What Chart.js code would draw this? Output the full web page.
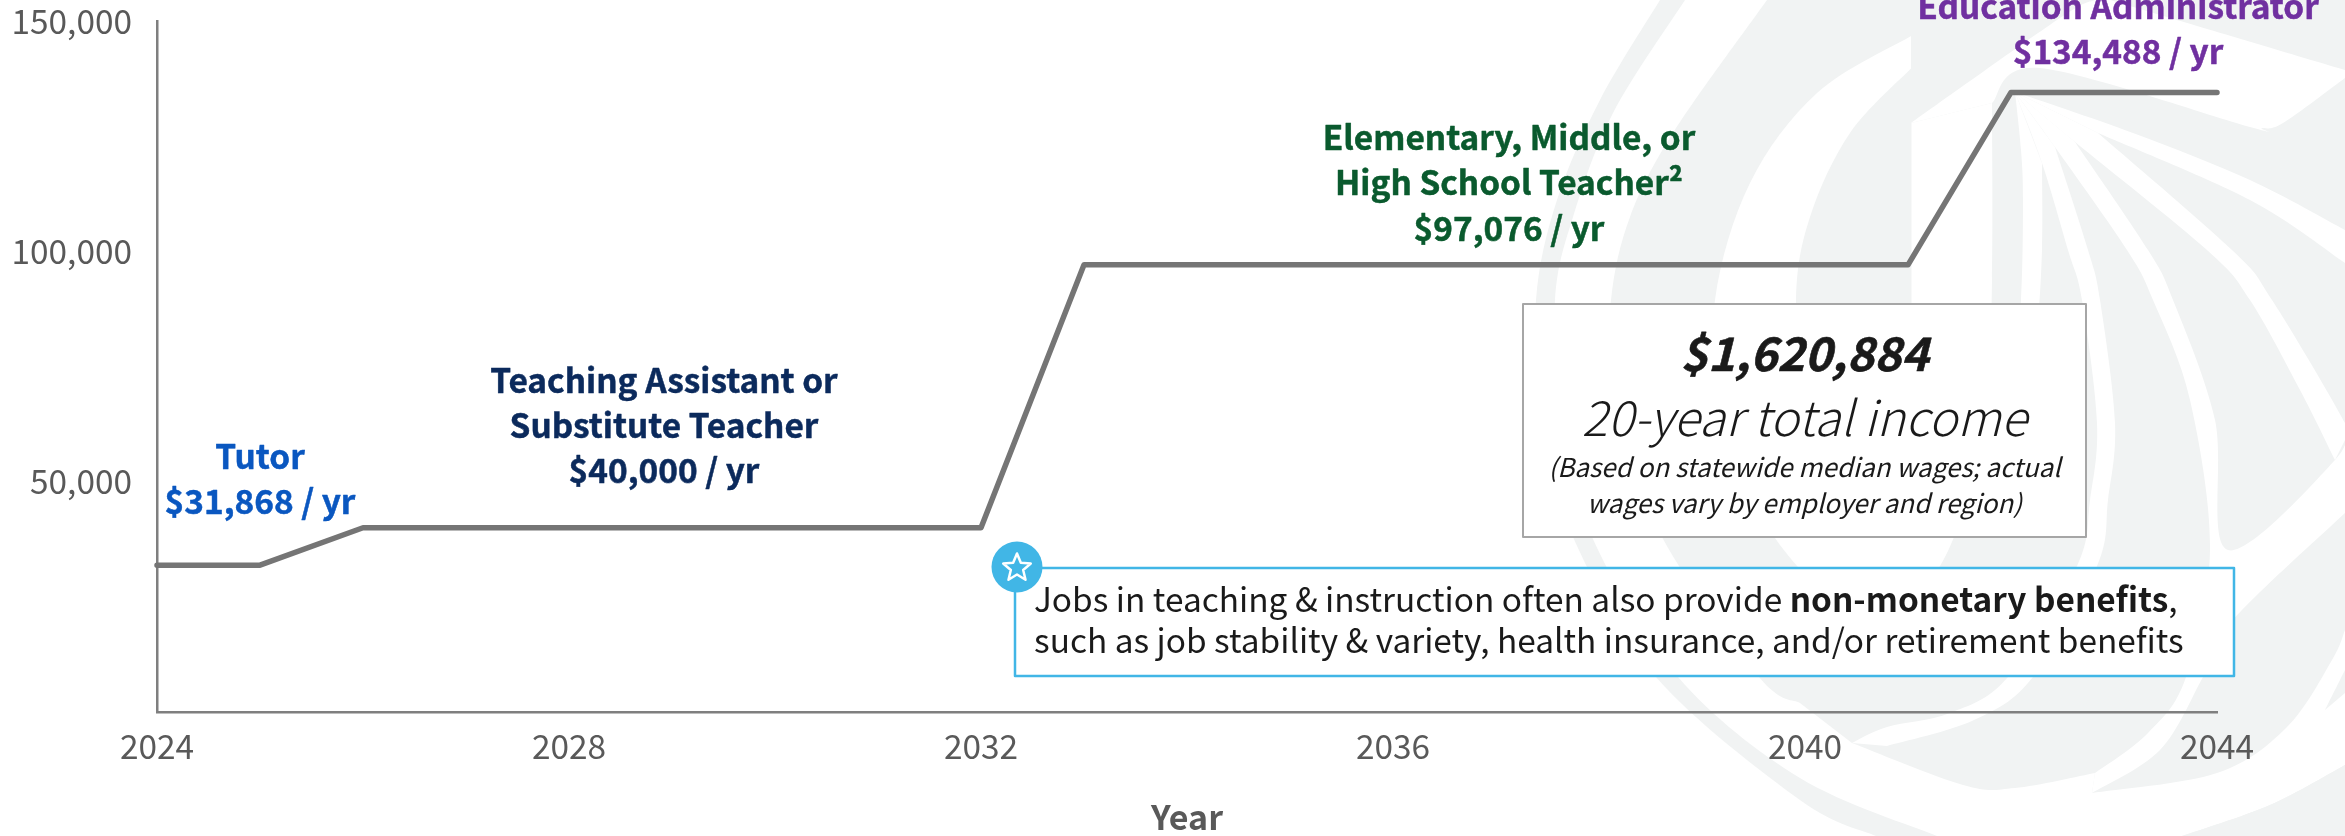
<!DOCTYPE html>
<html>
<head>
<meta charset="utf-8">
<style>html,body{margin:0;padding:0;background:#fff}canvas{display:block}</style>
<script src="https://cdn.jsdelivr.net/npm/chart.js@4"></script>
</head>
<body>
<canvas id="c" width="2345" height="836"></canvas>
<script>
const years = [2024,2025,2026,2027,2028,2029,2030,2031,2032,2033,2034,2035,2036,2037,2038,2039,2040,2041,2042,2043,2044];
const income = [31868,31868,40000,40000,40000,40000,40000,40000,40000,97076,97076,97076,97076,97076,97076,97076,97076,97076,134488,134488,134488];
const tutorLabel = ["Tutor","$31,868 / yr"];
const assistantLabel = ["Teaching Assistant or","Substitute Teacher","$40,000 / yr"];
const teacherLabel = ["Elementary, Middle, or","High School Teacher²","$97,076 / yr"];
const adminLabel = ["Education Administrator","$134,488 / yr"];
const totalLines = ["$1,620,884","20-year total income","(Based on statewide median wages; actual","wages vary by employer and region)"];
const noteLine1 = ["Jobs in teaching & instruction often also provide ","non-monetary benefits",","];
const noteLine2 = "such as job stability & variety, health insurance, and/or retirement benefits";
const axisTitle = "Year";

const FF = '"Noto Sans CJK JP","Noto Sans",sans-serif';
const WM = '#f1f3f3';

function tracePath(ctx, segs){
  ctx.beginPath();
  let first = true;
  for(const p of segs){
    if(first){ctx.moveTo(p[0][0],p[0][1]);first=false;} else ctx.lineTo(p[0][0],p[0][1]);
    for(let i=0;i<p.length-1;i++){
      const a=p[Math.max(i-1,0)],b=p[i],c=p[i+1],d=p[Math.min(i+2,p.length-1)];
      ctx.bezierCurveTo(b[0]+(c[0]-a[0])/6,b[1]+(c[1]-a[1])/6,c[0]-(d[0]-b[0])/6,c[1]-(d[1]-b[1])/6,c[0],c[1]);
    }
  }
  ctx.closePath();
}
function fillShape(ctx,color,segs){tracePath(ctx,segs);ctx.fillStyle=color;ctx.fill();}

const watermark = {
  id:'watermark',
  beforeDraw(chart){
    const ctx=chart.ctx;ctx.save();
    ctx.fillStyle='#fff';ctx.fillRect(0,0,2345,836);
    fillShape(ctx,WM,[[[1660,0],[1600,100],[1557,200],[1536,300],[1540,420],[1573,537],[1656,677],[1800,800],[1876,836]],[[2345,836]],[[2345,0]]]);
    fillShape(ctx,'#fff',[
      [[1685,0],[1613,113],[1573,217],[1555,300],[1560,420],[1592,537],[1678,677],[1800,778],[1937,836]],
      [[2182,836],[2270,805],[2345,765]],
      [[2345,630],[2332,660],[2287,727],[2217,773],[2092,793]],
      [[2095,773],[2015,788],[1963,785],[1852,743]],
      [[1800,703],[1759,677],[1662,537],[1610,400],[1611,300],[1630,217],[1673,133],[1767,0]]
    ]);
    fillShape(ctx,WM,[[[2182,836],[2270,805],[2345,765]],[[2345,793]],[[2252,836]]]);
    fillShape(ctx,WM,[[[2325,710],[2345,670]],[[2345,693]]]);
    fillShape(ctx,'#fff',[
      [[1911,36],[1817,93],[1750,183],[1715,300],[1718,420],[1775,538],[1850,610],[1905,600],[1948,551],[1985,430],[1992,280],[1992,103]],
      [[1911,123]]
    ]);
    fillShape(ctx,WM,[[[1911.5,68],[1850,133],[1810,217],[1796,300],[1805,420],[1860,500]],[[1911.5,420]]]);
    fillShape(ctx,'#fff',[[[1911,123],[2060,18],[2095,0]],[[2110,0],[2167,17],[2345,70]],[[2345,78],[2283,123],[2262,128],[2250,127],[2040,68],[1992,103]]]);
    fillShape(ctx,'#fff',[[[2015,92],[2021,150],[2023,200],[2021,300],[2012,400],[2000,450]],[[2020,450],[2036,340],[2042,250],[2042,163]]]);
    fillShape(ctx,'#fff',[[[2015,92],[2042,163],[2068,250],[2082,300],[2097,423],[2090,500],[2077,566],[2008,677],[1950,713],[1887,727],[1852,743]],[[1887,746],[1974,720],[2033,677],[2097,566],[2108,500],[2115,423],[2100,300],[2088,250],[2055,147]]]);
    fillShape(ctx,'#fff',[[[2015,92],[2055,147],[2127,250],[2153,300],[2190,400],[2210,550],[2186,677],[2148,733],[2095,773]],[[2092,793],[2160,750],[2203,677],[2233,620],[2345,513]],[[2345,423],[2335,460],[2228,550],[2215,420],[2173,300],[2148,250],[2075,142]]]);
    fillShape(ctx,'#fff',[[[2015,92],[2075,142],[2207,250],[2250,300],[2300,390],[2335,460]],[[2345,440],[2345,423],[2272,300],[2232,250],[2098,133]]]);
    fillShape(ctx,'#fff',[[[2015,92],[2133,133],[2250,180],[2345,230]],[[2345,263],[2250,200],[2098,133]]]);
    ctx.restore();
  }
};

function centered(ctx,lines,x,ys,font,color,heavy){
  ctx.font=font;ctx.fillStyle=color;ctx.textAlign='center';ctx.textBaseline='middle';
  ctx.strokeStyle=color;ctx.lineWidth=heavy||0;ctx.lineJoin='round';
  lines.forEach((t,i)=>{ctx.fillText(t,x,ys[i]);if(heavy)ctx.strokeText(t,x,ys[i]);});
}

const overlays = {
  id:'overlays',
  afterDraw(chart){
    const ctx=chart.ctx;ctx.save();
    const bold='700 33.4px '+FF;
    centered(ctx,tutorLabel,260,[456,501],bold,'#0a57c0',0.5);
    centered(ctx,assistantLabel,664,[380,425,470],bold,'#0b2a5c',0.5);
    centered(ctx,teacherLabel,1509,[137,182,228],bold,'#0a5a2e',0.5);
    centered(ctx,adminLabel,2118,[6,51],bold,'#7030a0',0.5);

    ctx.fillStyle='#fff';ctx.fillRect(1523,304,563,233);
    ctx.strokeStyle='#a6a6a6';ctx.lineWidth=2;ctx.strokeRect(1523,304,563,233);
    centered(ctx,[totalLines[0]],1804.5,[353],'italic 700 46.2px '+FF,'#1a1a1a',0.6);
    centered(ctx,[totalLines[1]],1804.5,[418],'italic 300 48.5px '+FF,'#1a1a1a');
    centered(ctx,totalLines.slice(2),1804.5,[467,503],'italic 400 26px '+FF,'#1a1a1a');

    ctx.fillStyle='#fff';ctx.fillRect(1015,568,1219,108);
    ctx.strokeStyle='#41b6e6';ctx.lineWidth=2.5;ctx.strokeRect(1015,568,1219,108);
    ctx.textAlign='left';ctx.textBaseline='middle';ctx.fillStyle='#1a1a1a';
    let x=1034;
    const reg='400 33.4px '+FF, bo='700 33.4px '+FF;
    [[noteLine1[0],reg],[noteLine1[1],bo],[noteLine1[2],reg]].forEach(([t,f])=>{ctx.font=f;ctx.fillText(t,x,599);x+=ctx.measureText(t).width;});
    ctx.font=reg;ctx.fillText(noteLine2,1034,640);

    ctx.beginPath();ctx.arc(1017,567,25.5,0,Math.PI*2);ctx.fillStyle='#41b6e6';ctx.fill();
    ctx.beginPath();
    for(let i=0;i<10;i++){
      const r=i%2?6.5:14.5,a=-Math.PI/2+i*Math.PI/5;
      const px=1017+r*Math.cos(a),py=568+r*Math.sin(a);
      i?ctx.lineTo(px,py):ctx.moveTo(px,py);
    }
    ctx.closePath();ctx.strokeStyle='#fff';ctx.lineWidth=2.5;ctx.lineJoin='round';ctx.stroke();

    centered(ctx,[axisTitle],1187,[817],'700 34px '+FF,'#595959');
    ctx.restore();
  }
};

new Chart(document.getElementById('c'),{
  type:'line',
  data:{datasets:[{
    data:years.map((y,i)=>({x:y,y:income[i]})),
    borderColor:'#757575',borderWidth:5.5,pointRadius:0,tension:0,
    borderCapStyle:'round',borderJoinStyle:'round',clip:false
  }]},
  options:{
    responsive:false,animation:false,
    layout:{padding:{left:0,right:128,top:21,bottom:0}},
    plugins:{legend:{display:false},tooltip:{enabled:false}},
    scales:{
      x:{type:'linear',min:2024,max:2044,
        afterFit(s){s.height=124;s.paddingLeft=0;s.paddingRight=0;},
        grid:{display:false,drawTicks:false},
        border:{display:true,color:'#7f7f7f',width:2.5},
        ticks:{stepSize:4,autoSkip:false,maxRotation:0,padding:14,color:'#595959',font:{family:FF,size:33.4},
          callback:v=>String(v)}
      },
      y:{min:0,max:150000,
        afterFit(s){s.width=157;s.paddingTop=0;s.paddingBottom=0;},
        grid:{display:false,drawTicks:false},
        border:{display:true,color:'#7f7f7f',width:2.5},
        ticks:{stepSize:50000,padding:25,color:'#595959',font:{family:FF,size:33.4},
          callback:v=>v===0?'':v.toLocaleString('en-US')}
      }
    }
  },
  plugins:[watermark,overlays]
});
</script>
</body>
</html>
